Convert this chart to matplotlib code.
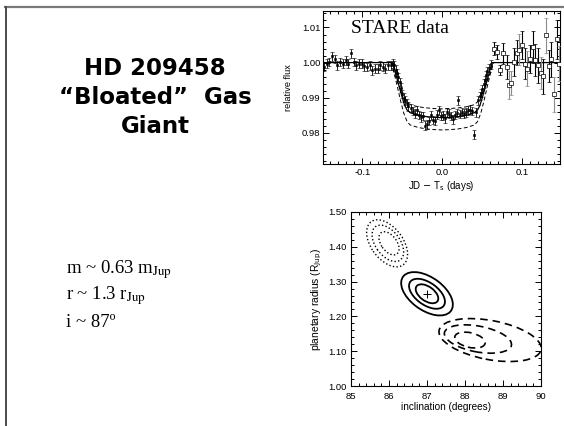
import matplotlib
matplotlib.use("Agg")
import matplotlib.pyplot as plt
from matplotlib.lines import Line2D
from matplotlib.patches import PathPatch
from matplotlib.path import Path
from matplotlib.transforms import Affine2D
from matplotlib.ticker import MultipleLocator, FormatStrFormatter

# ---------------- light curve (STARE) ----------------
# in-transit night: time from mid-transit (days), relative flux, 1-sigma error
t_a = [-0.1477, -0.1444, -0.1411, -0.1378, -0.1344, -0.1311, -0.1278, -0.1245,
       -0.1207, -0.1174, -0.1141, -0.1108, -0.1075, -0.1041, -0.1008, -0.0975,
       -0.0942, -0.0909, -0.0876, -0.0842, -0.0809, -0.0776, -0.0743, -0.0710,
       -0.0676, -0.0643, -0.0614,
       -0.0598, -0.0581, -0.0564, -0.0548, -0.0531, -0.0515, -0.0498, -0.0481,
       -0.0465, -0.0444, -0.0423,
       -0.0394, -0.0365, -0.0340, -0.0315, -0.0290, -0.0266, -0.0241, -0.0216,
       -0.0191, -0.0166, -0.0141, -0.0116, -0.0091, -0.0066, -0.0041, -0.0017,
       0.0008, 0.0033, 0.0058, 0.0083, 0.0108, 0.0133, 0.0158, 0.0183, 0.0199,
       0.0224, 0.0249, 0.0274, 0.0299, 0.0324, 0.0349, 0.0373, 0.0402, 0.0423,
       0.0448, 0.0465, 0.0481, 0.0498, 0.0515, 0.0531, 0.0548, 0.0564, 0.0585,
       0.0606]
f_a = [0.9988, 0.9997, 1.0002, 1.0018, 1.0011, 0.9992, 1.0002, 0.9997,
       1.0007, 0.9997, 1.0026, 1.0002, 0.9992, 0.9997, 0.9997, 0.9990,
       0.9988, 0.9992, 0.9978, 0.9983, 0.9983, 0.9992, 0.9988, 0.9983,
       0.9992, 0.9992, 0.9997,
       0.9992, 0.9980, 0.9971, 0.9959, 0.9945, 0.9929, 0.9911, 0.9900,
       0.9892, 0.9885, 0.9875,
       0.9871, 0.9862, 0.9854, 0.9864, 0.9850, 0.9845, 0.9847, 0.9820,
       0.9824, 0.9833, 0.9850, 0.9837, 0.9833, 0.9852, 0.9864, 0.9847,
       0.9850, 0.9841, 0.9858, 0.9854, 0.9847, 0.9839, 0.9850, 0.9856, 0.9892,
       0.9854, 0.9860, 0.9854, 0.9858, 0.9864, 0.9866, 0.9862, 0.9794, 0.9858,
       0.9892, 0.9904, 0.9913, 0.9925, 0.9940, 0.9951, 0.9964, 0.9976, 0.9984,
       0.9995]
e_a = [0.0013, 0.0012, 0.0012, 0.0013, 0.0012, 0.0013, 0.0012, 0.0012,
       0.0013, 0.0012, 0.0013, 0.0012, 0.0013, 0.0012, 0.0012, 0.0013,
       0.0012, 0.0013, 0.0012, 0.0012, 0.0013, 0.0012, 0.0013, 0.0012,
       0.0012, 0.0013, 0.0012,
       0.0012, 0.0012, 0.0012, 0.0012, 0.0012, 0.0012, 0.0012, 0.0012,
       0.0012, 0.0012, 0.0012,
       0.0012, 0.0012, 0.0013, 0.0012, 0.0012, 0.0013, 0.0012, 0.0013,
       0.0012, 0.0012, 0.0013, 0.0012, 0.0012, 0.0013, 0.0012, 0.0012,
       0.0013, 0.0012, 0.0012, 0.0013, 0.0012, 0.0013, 0.0012, 0.0012, 0.0013,
       0.0012, 0.0012, 0.0013, 0.0012, 0.0012, 0.0013, 0.0012, 0.0013, 0.0012,
       0.0012, 0.0012, 0.0012, 0.0012, 0.0012, 0.0012, 0.0012, 0.0012, 0.0012,
       0.0012]

# post-egress points (noisier)
t_b = [0.0647, 0.0689, 0.0726, 0.0763, 0.0805, 0.0834, 0.0863, 0.0896,
       0.0929, 0.0963, 0.0996, 0.1029, 0.1062, 0.1095, 0.1129, 0.1162,
       0.1195, 0.1228, 0.1261, 0.1295, 0.1328, 0.1361, 0.1394, 0.1427,
       0.1461]
f_b = [1.0040, 1.0030, 0.9978, 1.0026, 0.9988, 0.9935, 0.9942, 1.0002,
       1.0028, 1.0037, 1.0051, 0.9997, 0.9983, 1.0009, 1.0045, 1.0007,
       0.9992, 0.9970, 0.9961, 1.0078, 0.9990, 1.0009, 0.9910, 1.0066,
       0.9997]
e_b = [0.0018, 0.0020, 0.0014, 0.0030, 0.0035, 0.0040, 0.0035, 0.0040,
       0.0035, 0.0045, 0.0040, 0.0045, 0.0050, 0.0040, 0.0045, 0.0045,
       0.0050, 0.0045, 0.0050, 0.0050, 0.0045, 0.0050, 0.0050, 0.0055,
       0.0050]
gray_b = [False, False, False, False, False, True, True, False,
          False, True, False, False, True, False, False, False,
          False, True, False, True, False, False, True, False,
          True]

# transit models
t_mod = [-0.150, -0.062, -0.059, -0.056, -0.053, -0.050, -0.047, -0.044,
         -0.040, -0.030, -0.020, -0.010, 0.000, 0.010, 0.020, 0.030, 0.040,
         0.044, 0.047, 0.050, 0.053, 0.056, 0.059, 0.062, 0.150]
f_best = [1.0, 1.0, 0.9975, 0.9950, 0.9925, 0.9900, 0.9878, 0.9865,
          0.9857, 0.9850, 0.9846, 0.9844, 0.9843, 0.9844, 0.9846, 0.9850,
          0.9857, 0.9865, 0.9878, 0.9900, 0.9925, 0.9950, 0.9975, 1.0, 1.0]
t_alt = [-0.064, -0.060, -0.056, -0.052, -0.048, -0.044, -0.040, -0.030,
         -0.020, -0.010, 0.000, 0.010, 0.020, 0.030, 0.040, 0.044, 0.048,
         0.052, 0.056, 0.060, 0.064]
f_deep = [1.0, 0.9968, 0.9930, 0.9890, 0.9855, 0.9832, 0.9822, 0.9815,
          0.9811, 0.9809, 0.9808, 0.9809, 0.9811, 0.9815, 0.9822, 0.9832,
          0.9855, 0.9890, 0.9930, 0.9968, 1.0]
f_shallow = [1.0, 0.9972, 0.9945, 0.9920, 0.9900, 0.9888, 0.9880, 0.9874,
             0.9871, 0.9869, 0.9868, 0.9869, 0.9871, 0.9874, 0.9880, 0.9888,
             0.9900, 0.9920, 0.9945, 0.9972, 1.0]

# ---------------- radius / inclination confidence regions ----------------
# (centre incl [deg], centre radius [R_Jup], semi-major, semi-minor, angle [deg])
# semi-axes are in degrees of inclination, radius scaled by 10 to match
best_fit = (87.0, 1.265)
dotted_regions = [
    (85.95, 1.410, 0.75, 0.43, -58),
    (85.97, 1.410, 0.58, 0.33, -58),
    (86.00, 1.410, 0.37, 0.21, -58),
]
solid_regions = [
    (87.00, 1.265, 0.80, 0.46, -40),
    (87.00, 1.265, 0.56, 0.31, -40),
    (87.00, 1.265, 0.35, 0.20, -40),
]
dashed_regions = [
    (88.66, 1.132, 1.37, 0.56, -12),
    (88.34, 1.135, 0.90, 0.37, -12),
    (88.13, 1.132, 0.41, 0.21, -15),
]

SANS = "Liberation Sans"
SERIF = "Liberation Serif"

fig = plt.figure(figsize=(5.64, 4.26), dpi=100)
fig.patch.set_facecolor("white")

# slide frame
fig.add_artist(Line2D([5 / 564, 1.0], [1 - 6.5 / 426, 1 - 6.5 / 426],
                      transform=fig.transFigure, color="#7a7a7a", lw=1.6))
fig.add_artist(Line2D([5.5 / 564, 5.5 / 564], [0.0, 1 - 6.5 / 426],
                      transform=fig.transFigure, color="#4a4a4a", lw=1.4))

# slide title
title_lines = ["HD 209458", "\u201cBloated\u201d  Gas", "Giant"]
title_y = [75, 104, 133]
for line, yb in zip(title_lines, title_y):
    fig.text(155 / 564, 1 - yb / 426, line, ha="center", va="baseline",
             fontsize=16.5, fontweight="bold", family="DejaVu Sans")

# planet parameters
params = [r"m ~ 0.63 m$_{\rm Jup}$", r"r ~ 1.3 r$_{\rm Jup}$", "i ~ 87\u00ba"]
params_y = [273, 299, 327]
for line, yb in zip(params, params_y):
    fig.text(66 / 564, 1 - yb / 426, line, ha="left", va="baseline",
             fontsize=13.5, family=SERIF, math_fontfamily="stix")


def style_axes(ax):
    ax.tick_params(which="both", direction="in", top=True, right=True,
                   labelsize=6.8, width=0.7, colors="black")
    ax.tick_params(which="major", length=4)
    ax.tick_params(which="minor", length=2)
    for s in ax.spines.values():
        s.set_linewidth(0.8)
    for lab in ax.get_xticklabels() + ax.get_yticklabels():
        lab.set_family(SANS)


# ---------------- top panel: light curve ----------------
ax1 = fig.add_axes([323 / 564, 1 - 164 / 426, 237 / 564, 153 / 426])
ax1.plot(t_mod, f_best, color="black", lw=0.9, zorder=3)
ax1.plot(t_alt, f_deep, color="black", lw=0.7, ls=(0, (4, 2.5)), zorder=3)
ax1.plot(t_alt, f_shallow, color="black", lw=0.7, ls=(0, (4, 2.5)), zorder=3)

ax1.errorbar(t_a, f_a, yerr=e_a, fmt="s", ms=1.8, color="black",
             mfc="black", mew=0.4, ecolor="black", elinewidth=0.6,
             capsize=1.6, capthick=0.6, zorder=4)
for t, f, e, g in zip(t_b, f_b, e_b, gray_b):
    c = "#8c8c8c" if g else "black"
    ax1.errorbar([t], [f], yerr=[e], fmt="s", ms=2.2, color=c, mfc="white",
                 mec="black", mew=0.5, ecolor=c, elinewidth=0.8, capsize=1.6,
                 capthick=0.7, zorder=4)

ax1.set_xlim(-0.149, 0.147)
ax1.set_ylim(0.9711, 1.0147)
ax1.xaxis.set_major_locator(MultipleLocator(0.1))
ax1.xaxis.set_minor_locator(MultipleLocator(0.01))
ax1.yaxis.set_major_locator(MultipleLocator(0.01))
ax1.yaxis.set_minor_locator(MultipleLocator(0.002))
ax1.xaxis.set_major_formatter(FormatStrFormatter("%.1f"))
ax1.yaxis.set_major_formatter(FormatStrFormatter("%.2f"))
style_axes(ax1)
ax1.tick_params(axis="x", pad=3)
ax1.tick_params(axis="y", pad=2)
ax1.set_xlabel(r"JD $-$ T$_{\rm s}$ (days)", fontsize=7.0, family=SANS,
               math_fontfamily="dejavusans", labelpad=1)
ax1.set_ylabel("relative flux", fontsize=6.6, family=SANS, labelpad=6)
ax1.text(-0.1144, 1.0085, "STARE data", fontsize=14, family=SERIF,
         ha="left", va="baseline")

# ---------------- bottom panel: radius vs inclination ----------------
ax2 = fig.add_axes([351 / 564, 1 - 386 / 426, 190 / 564, 174 / 426])


def draw_region(ax, reg, **kw):
    cx, cy, a, b, ang = reg
    tr = (Affine2D().scale(a, b).rotate_deg(ang).translate(cx, cy * 10)
          .scale(1, 0.1) + ax.transData)
    ax.add_patch(PathPatch(Path.unit_circle(), transform=tr, fill=False,
                           edgecolor="black", **kw))


for reg in dotted_regions:
    draw_region(ax2, reg, lw=1.0, linestyle=(0, (1, 1.6)))
for reg in solid_regions:
    draw_region(ax2, reg, lw=1.3, linestyle="-")
for reg in dashed_regions:
    draw_region(ax2, reg, lw=1.2, linestyle=(0, (4.5, 3)))
ax2.plot([best_fit[0]], [best_fit[1]], marker="+", ms=6, mew=0.7,
         color="black", ls="none")

ax2.set_xlim(85, 90)
ax2.set_ylim(1.0, 1.5)
ax2.xaxis.set_major_locator(MultipleLocator(1))
ax2.xaxis.set_minor_locator(MultipleLocator(0.2))
ax2.yaxis.set_major_locator(MultipleLocator(0.1))
ax2.yaxis.set_minor_locator(MultipleLocator(0.02))
ax2.xaxis.set_major_formatter(FormatStrFormatter("%d"))
ax2.yaxis.set_major_formatter(FormatStrFormatter("%.2f"))
style_axes(ax2)
ax2.tick_params(axis="x", pad=4)
ax2.tick_params(axis="y", pad=3)
ax2.set_xlabel("inclination (degrees)", fontsize=7.2, family=SANS,
               labelpad=1)
ax2.set_ylabel(r"planetary radius (R$_{\rm Jup}$)", fontsize=7.4,
               family=SANS, math_fontfamily="dejavusans", labelpad=3)

fig.savefig("out.png", dpi=100, facecolor="white")
